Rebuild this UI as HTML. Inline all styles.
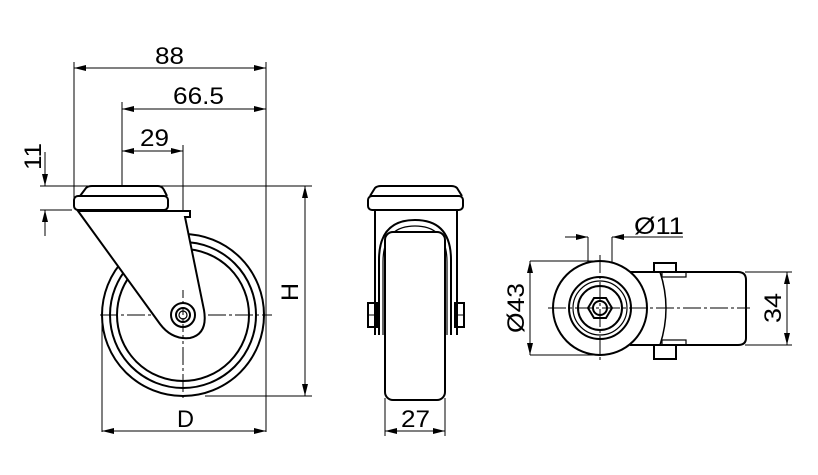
<!DOCTYPE html>
<html><head><meta charset="utf-8"><style>html,body{margin:0;padding:0;background:#fff}svg{display:block}text{font-family:"Liberation Sans",sans-serif;font-size:24px;fill:#000}</style></head>
<body>
<svg width="818" height="475" viewBox="0 0 818 475" xmlns="http://www.w3.org/2000/svg">
<defs>
<marker id="a" viewBox="0 0 12 6" refX="12" refY="3" markerWidth="12" markerHeight="6" orient="auto-start-reverse" markerUnits="userSpaceOnUse"><path d="M0,0L12,3L0,6z" fill="#000"/></marker>
</defs>
<g stroke="#000" fill="none" stroke-width="1">
<line x1="74" y1="62" x2="74" y2="205"/>
<line x1="122" y1="102" x2="122" y2="212"/>
<line x1="266" y1="62" x2="266" y2="432"/>
<line x1="102" y1="318" x2="102" y2="432"/>
<line x1="40" y1="186" x2="312" y2="186"/>
<line x1="40" y1="210" x2="72" y2="210"/>
<line x1="205" y1="396" x2="312" y2="396"/>
<line x1="183" y1="145" x2="183" y2="212"/>
<line x1="74" y1="68" x2="266" y2="68" marker-start="url(#a)" marker-end="url(#a)"/>
<line x1="122" y1="109" x2="266" y2="109" marker-start="url(#a)" marker-end="url(#a)"/>
<line x1="122" y1="151" x2="183" y2="151" marker-start="url(#a)" marker-end="url(#a)"/>
<line x1="45" y1="152" x2="45" y2="186" marker-end="url(#a)"/>
<line x1="45" y1="236" x2="45" y2="210" marker-end="url(#a)"/>
<line x1="305" y1="186" x2="305" y2="396" marker-start="url(#a)" marker-end="url(#a)"/>
<line x1="102" y1="431" x2="266" y2="431" marker-start="url(#a)" marker-end="url(#a)"/>
<line x1="100" y1="315" x2="272" y2="315" stroke-dasharray="18,3,3,3"/>
<line x1="183" y1="212" x2="183" y2="400" stroke-dasharray="18,3,3,3"/>
</g>
<g stroke="#000" fill="none" stroke-width="2">
<circle cx="183" cy="315" r="81"/>
<circle cx="183" cy="315" r="73"/>
<circle cx="183" cy="315" r="66"/>
<path d="M80,196 L86,188 Q88,186 92,186 L158,186 Q162,186 164,190 L167,196" fill="#fff"/>
<rect x="74" y="196" width="94" height="14" rx="4" fill="#fff"/>
<path d="M78,211 L160,324 Q172,340 190,338 Q208,334 204,310 L185,217 L190,217 L190,211 Z" fill="#fff"/>
<line x1="150" y1="211" x2="190" y2="211"/>
<circle cx="183" cy="315" r="12" fill="#fff"/>
<circle cx="183" cy="315" r="7"/>
<circle cx="183" cy="315" r="4" stroke-width="1.2"/>
</g>
<g stroke="#000" fill="none" stroke-width="1">
<line x1="183" y1="290" x2="183" y2="340" stroke-dasharray="8,3,3,3"/>
<line x1="385" y1="398" x2="385" y2="436"/>
<line x1="445" y1="398" x2="445" y2="436"/>
<line x1="385" y1="431" x2="445" y2="431" marker-start="url(#a)" marker-end="url(#a)"/>
</g>
<g stroke="#000" fill="none" stroke-width="2">
<path d="M370,196 L375,188 Q377,186 381,186 L451,186 Q455,186 457,188 L462,196"/>
<rect x="368" y="196" width="95" height="14" rx="4"/>
<line x1="375" y1="210" x2="375" y2="335"/>
<line x1="457" y1="210" x2="457" y2="335"/>
<path d="M379,335 L379,260 Q379,220 415,220 Q451,220 451,260 L451,335"/>
<path d="M383,335 L383,262 Q383,226 415,226 Q447,226 447,262 L447,335" stroke-width="1.2"/>
<rect x="385" y="232" width="60" height="168" rx="8" fill="#fff"/>
<rect x="368" y="303" width="9" height="24"/>
<line x1="368" y1="315" x2="377" y2="315" stroke-width="1"/>
<rect x="455" y="303" width="9" height="24"/>
<line x1="455" y1="315" x2="464" y2="315" stroke-width="1"/>
</g>
<g stroke="#000" fill="none" stroke-width="1">
<line x1="530" y1="261" x2="600" y2="261"/>
<line x1="530" y1="355" x2="600" y2="355"/>
<line x1="530" y1="261" x2="530" y2="355" marker-start="url(#a)" marker-end="url(#a)"/>
<line x1="745" y1="272" x2="792" y2="272"/>
<line x1="745" y1="345" x2="792" y2="345"/>
<line x1="787" y1="272" x2="787" y2="345" marker-start="url(#a)" marker-end="url(#a)"/>
<line x1="588" y1="237" x2="588" y2="300"/>
<line x1="612" y1="237" x2="612" y2="300"/>
<line x1="565" y1="237" x2="588" y2="237" marker-end="url(#a)"/>
<line x1="635" y1="237" x2="612" y2="237" marker-end="url(#a)"/>
<line x1="612" y1="237" x2="683" y2="237"/>
</g>
<g stroke="#000" fill="none" stroke-width="2">
<path d="M630,272 L738,272 Q746,272 746,280 L746,338 Q746,345 738,345 L630,345"/>
<path d="M660,272 Q672,308 660,345" stroke-width="1.5"/>
<rect x="654" y="263" width="22" height="9"/>
<rect x="654" y="345" width="22" height="14"/>
<rect x="662" y="272" width="24" height="5" stroke-width="1.2"/>
<rect x="662" y="340" width="24" height="5" stroke-width="1.2"/>
<circle cx="600" cy="308" r="47" fill="#fff"/>
<circle cx="600" cy="308" r="31"/>
<circle cx="600" cy="308" r="27" stroke-width="1.2"/>
<circle cx="600" cy="308" r="22"/>
<polygon points="612,308 606,318 594,318 588,308 594,298 606,298"/>
<circle cx="600" cy="308" r="7"/>
</g>
<g stroke="#000" stroke-width="1" fill="none">
<line x1="548" y1="308" x2="750" y2="308" stroke-dasharray="18,3,3,3"/>
<line x1="600" y1="255" x2="600" y2="362" stroke-dasharray="18,3,3,3"/>
</g>
<text x="155" y="64" textLength="29" lengthAdjust="spacingAndGlyphs">88</text>
<text x="173" y="104" textLength="51" lengthAdjust="spacingAndGlyphs">66.5</text>
<text x="140" y="146" textLength="29" lengthAdjust="spacingAndGlyphs">29</text>
<text x="177" y="427" textLength="17" lengthAdjust="spacingAndGlyphs">D</text>
<text x="401" y="427" textLength="29" lengthAdjust="spacingAndGlyphs">27</text>
<text x="634" y="234" textLength="50" lengthAdjust="spacingAndGlyphs">Ø11</text>
<text transform="translate(41,170) rotate(-90)" textLength="27" lengthAdjust="spacingAndGlyphs">11</text>
<text transform="translate(298,301) rotate(-90)" textLength="18" lengthAdjust="spacingAndGlyphs">H</text>
<text transform="translate(524,333) rotate(-90)" textLength="50" lengthAdjust="spacingAndGlyphs">Ø43</text>
<text transform="translate(781,323) rotate(-90)" textLength="30" lengthAdjust="spacingAndGlyphs">34</text>
</svg>
</body></html>
